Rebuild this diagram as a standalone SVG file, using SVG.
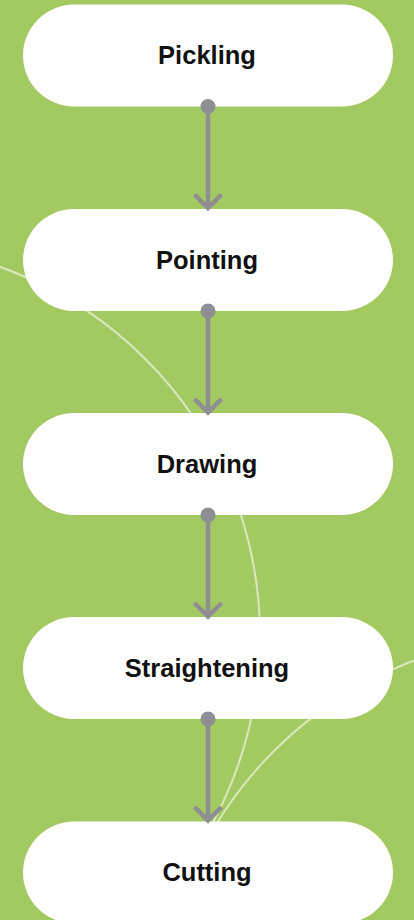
<svg xmlns="http://www.w3.org/2000/svg" width="414" height="920" viewBox="0 0 414 920">
  <style>
    .bg { fill: #a3c962; }
    .deco { fill: none; stroke: #d8e9bd; stroke-width: 2; }
    .node rect { fill: #ffffff; }
    .node text { font-family: "Liberation Sans", Arial, sans-serif; font-weight: bold; font-size: 25.5px; fill: #111111; text-anchor: middle; }
    .link-stroke { fill: none; stroke: #8e8e93; stroke-width: 4.5; stroke-linejoin: miter; }
    .link-dot { fill: #8e8e93; }
  </style>
  <defs>
    <g id="link-shape">
      <line class="link-stroke" x1="0" y1="0" x2="0" y2="100"/>
      <polyline class="link-stroke" points="-13.5,88 0,101.5 13.5,88"/>
      <circle class="link-dot" cx="0" cy="0" r="7.5"/>
    </g>
  </defs>

  <rect class="bg" x="0" y="0" width="414" height="920"/>

  <!-- background arcs -->
  <g id="decoration">
    <circle class="deco" cx="-132" cy="636" r="392"/>
    <circle class="deco" cx="554" cy="1031" r="396"/>
  </g>

  <g id="node-pickling" class="node">
    <rect x="23" y="4.5" width="370" height="102" rx="51"/>
    <text x="207" y="64">Pickling</text>
  </g>
  <g id="node-pointing" class="node">
    <rect x="23" y="209" width="370" height="102" rx="51"/>
    <text x="207" y="268.5">Pointing</text>
  </g>
  <g id="node-drawing" class="node">
    <rect x="23" y="413" width="370" height="102" rx="51"/>
    <text x="207" y="472.5">Drawing</text>
  </g>
  <g id="node-straightening" class="node">
    <rect x="23" y="617" width="370" height="102" rx="51"/>
    <text x="207" y="676.5">Straightening</text>
  </g>
  <g id="node-cutting" class="node">
    <rect x="23" y="821.5" width="370" height="102" rx="51"/>
    <text x="207" y="881">Cutting</text>
  </g>

  <g id="connectors">
    <use href="#link-shape" x="208" y="106.5"/>
    <use href="#link-shape" x="208" y="311"/>
    <use href="#link-shape" x="208" y="515"/>
    <use href="#link-shape" x="208" y="719"/>
  </g>
</svg>
